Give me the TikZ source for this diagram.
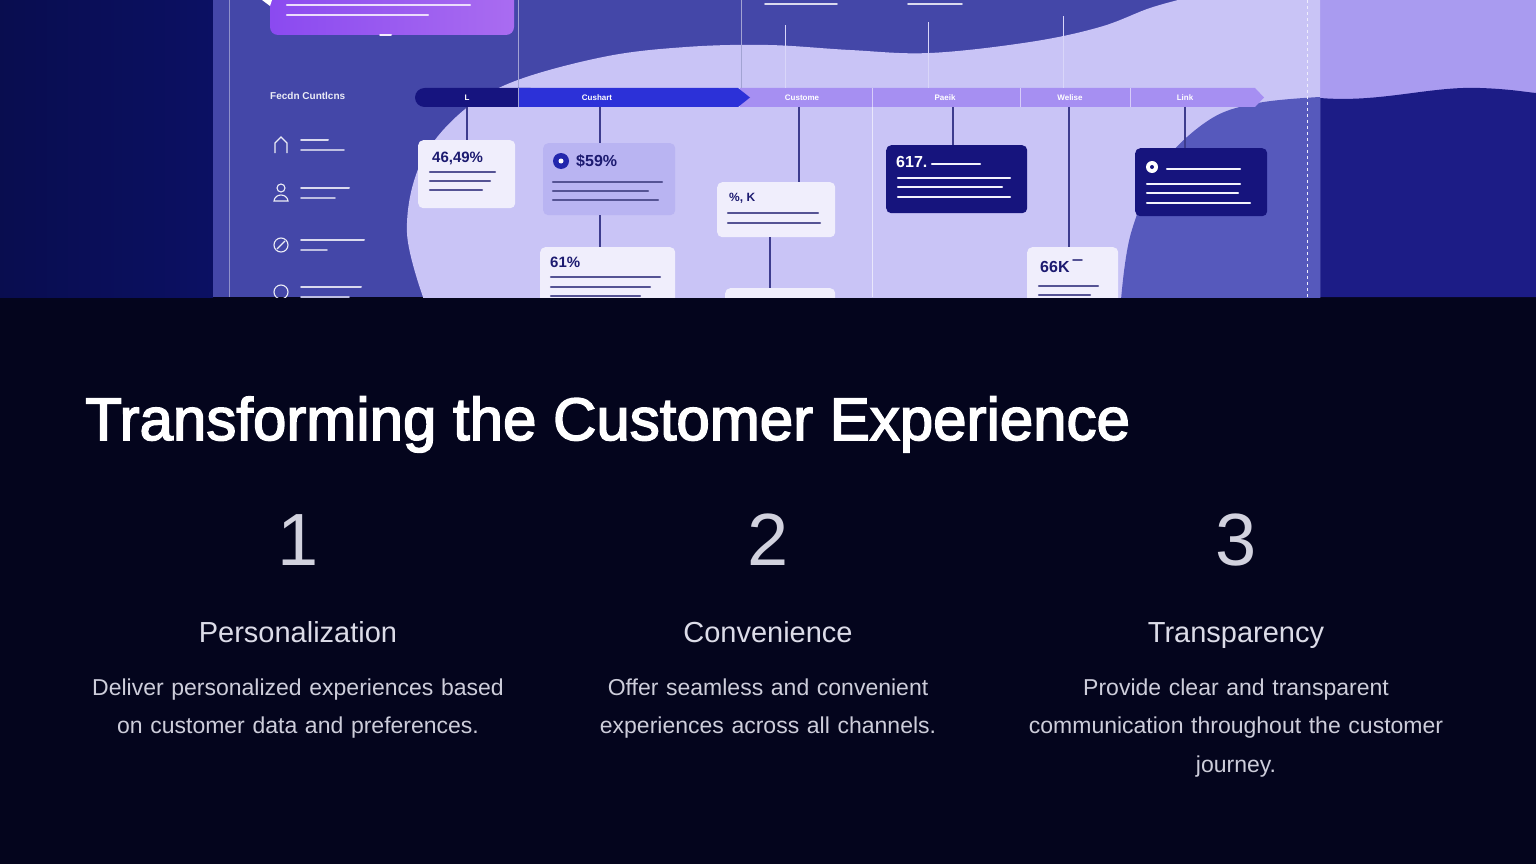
\documentclass[tikz,border=0pt]{standalone}
\usepackage{fontspec}
\setmainfont{Liberation Sans}
\newfontfamily\titlefont[FakeBold=2.6]{Liberation Sans}
\usetikzlibrary{positioning}
\definecolor{pagebg}{HTML}{04051D}
\definecolor{leftnavy}{HTML}{0B1063}
\definecolor{panelblue}{HTML}{4447A8}
\definecolor{lavender}{HTML}{C9C4F6}
\definecolor{outlilac}{HTML}{A99BF0}
\definecolor{outnavy}{HTML}{1C1C86}
\definecolor{blobblue}{HTML}{5659BC}
\definecolor{violetbox}{HTML}{9A52EE}
\definecolor{barnavy}{HTML}{16147F}
\definecolor{barblue}{HTML}{2C31D8}
\definecolor{barlilac}{HTML}{A68FF2}
\definecolor{cardwhite}{HTML}{F0EEFC}
\definecolor{cardlav}{HTML}{B9B4F2}
\definecolor{cardnavy}{HTML}{16147D}
\definecolor{inkblue}{HTML}{1C1A70}
\definecolor{linkline}{HTML}{3D3C8E}
\definecolor{numgrey}{HTML}{D2D2DE}
\definecolor{headgrey}{HTML}{DCDCE8}
\definecolor{bodygrey}{HTML}{CDCDDA}
\tikzset{
  card/.style={fill=cardwhite, rounded corners=5pt, anchor=north west, inner sep=0pt},
  navycard/.style={card, fill=cardnavy},
  conn/.style={draw=linkline, line width=1.2pt},
  guide/.style={draw=lavender!70!white, line width=0.9pt},
  inkbar/.style={draw=inkblue!75, line width=2.4pt, line cap=round},
  whitebar/.style={draw=white!85!cardlav, line width=2.2pt, line cap=round},
  stagelabel/.style={text=white, font=\bfseries\fontsize{8}{8}\selectfont, inner sep=0pt},
  bignum/.style={text=inkblue, font=\bfseries\fontsize{15}{15}\selectfont, anchor=west, inner sep=0pt},
  icon/.style={draw=white!90!panelblue, line width=1.1pt},
  colnum/.style={text=numgrey, font=\fontsize{74}{74}\selectfont, anchor=base},
  colhead/.style={text=headgrey, font=\fontsize{29}{29}\selectfont, anchor=base},
  colbody/.style={text=bodygrey, font=\fontsize{23}{38.5}\selectfont, anchor=base, align=center, text width=520pt}
}
\begin{document}
\begin{tikzpicture}[x=1pt, y=-1pt]
  \useasboundingbox (0,0) rectangle (1536,864);
  % dark lower half
  \fill[pagebg] (0,0) rectangle (1536,864);
  % picture strip
  \begin{scope}
    \clip (0,0) rectangle (1536,297);
    \shade[left color=leftnavy!80!black, right color=leftnavy] (0,0) rectangle (213,297);
    \fill[outlilac] (1320,0) rectangle (1536,297);
    \fill[outnavy] (1320,98) .. controls (1380,103) and (1430,86) .. (1480,88)
      .. controls (1510,89) and (1525,92) .. (1536,93) -- (1536,297) -- (1320,297) -- cycle;
    \fill[panelblue] (213,0) rectangle (1320,297);
    \fill[lavender] plot[smooth, tension=0.6] coordinates {(424,300) (407,233) (419,167) (456,117)
      (510,83) (603,57) (686,47) (768,45) (850,50) (930,53) (1030,42) (1100,27) (1150,8) (1190,-3)}
      -- (1320,-3) -- (1320,300) -- cycle;
    \fill[blobblue] plot[smooth, tension=0.6] coordinates {(1121,300) (1131,233) (1160,167)
      (1209,120) (1258,103) (1320,97)} -- (1320,300) -- cycle;
    % panel rules
    \draw[line width=0.9pt, draw=panelblue!60!white] (229,0) -- (229,297);
    \draw[line width=0.9pt, draw=panelblue!50!white] (518,0) -- (518,88);
    \draw[line width=0.9pt, draw=panelblue!50!white] (741,0) -- (741,88);
    \draw[line width=0.8pt, draw=white!70!lavender, dashed] (1307,0) -- (1307,297);
    \draw[line width=0.8pt, draw=white!60!lavender] (872,107) -- (872,297);
    % top callout
    \shade[left color=violetbox!90!blue, right color=violetbox!85!white, rounded corners=8pt]
      (270,-10) rectangle (514,35);
    \fill[white] (262,0) -- (272,0) -- (270,6) -- cycle;
    \draw[white!90!violetbox, line width=2pt, line cap=round] (380,35) -- (391,35);
    \draw[white!80!violetbox, line width=2.2pt, line cap=round] (287,5) -- (470,5);
    \draw[white!80!violetbox, line width=2.2pt, line cap=round] (287,15) -- (428,15);
    \draw[white!80!panelblue, line width=1.8pt, line cap=round] (765,4) -- (837,4);
    \draw[white!80!panelblue, line width=1.8pt, line cap=round] (908,4) -- (962,4);
    % left list
    \node[text=white!90!panelblue, font=\bfseries\fontsize{10}{10}\selectfont, anchor=west,
      inner sep=0pt] (features) at (270,96) {Fecdn Cuntlcns};
    \draw[icon] (275,153) -- (275,143) -- (281,137) -- (287,143) -- (287,153);
    \draw[icon] (281,188) circle (4);
    \draw[icon] (274,201) .. controls (275,193) and (287,193) .. (288,201) -- cycle;
    \draw[icon] (281,245) circle (7);
    \draw[icon] (277,249) -- (285,241);
    \draw[icon] (281,292) circle (7);
    \foreach \yy/\wa/\wb in {140/27/43, 188/48/34, 240/63/26, 287/60/48} {
      \draw[white!80!panelblue, line width=2pt, line cap=round] (301,\yy) -- (301+\wa,\yy);
      \draw[white!65!panelblue, line width=1.8pt, line cap=round] (301,\yy+10) -- (301+\wb,\yy+10);
    }
    % stage bar
    \fill[barlilac] (740,88) -- (1255,88) -- (1264,97.5) -- (1255,107) -- (740,107) -- cycle;
    \foreach \xx in {872,1020,1130}
      \draw[white!55!barlilac, line width=1pt] (\xx,88) -- (\xx,107);
    \fill[barnavy, rounded corners=9.5pt] (415,88) rectangle (540,107);
    \fill[barblue] (518,88) -- (738,88) -- (750,97.5) -- (738,107) -- (518,107) -- cycle;
    \draw[line width=0.8pt, draw=panelblue!50!white] (518,88) -- (518,107);
    \node[stagelabel] (stage1) at (467,97.5) {L};
    \node[stagelabel] (stage2) at (597,97.5) {Cushart};
    \node[stagelabel] (stage3) at (802,97.5) {Custome};
    \node[stagelabel] (stage4) at (945,97.5) {Paeik};
    \node[stagelabel] (stage5) at (1070,97.5) {Welise};
    \node[stagelabel] (stage6) at (1185,97.5) {Link};
    % cards
    \node[card, minimum width=97pt, minimum height=68pt] (boxA) at (418,140) {};
    \node[card, fill=cardlav, minimum width=132pt, minimum height=72pt] (boxB) at (543,143) {};
    \node[card, minimum width=118pt, minimum height=55pt] (boxC) at (717,182) {};
    \node[card, minimum width=135pt, minimum height=60pt] (boxD) at (540,247) {};
    \node[card, minimum width=110pt, minimum height=20pt] (boxH) at (725,288) {};
    \node[navycard, minimum width=141pt, minimum height=68pt] (boxE) at (886,145) {};
    \node[navycard, minimum width=132pt, minimum height=68pt] (boxF) at (1135,148) {};
    \node[card, minimum width=91pt, minimum height=60pt] (boxG) at (1027,247) {};
    % connectors
    \coordinate (t1) at (467,107);
    \coordinate (t2) at (600,107);
    \coordinate (t3) at (799,107);
    \coordinate (t4) at (953,107);
    \coordinate (t5) at (1069,107);
    \coordinate (t6) at (1185,107);
    \draw[conn] (t1) -- (t1 |- boxA.north);
    \draw[conn] (t2) -- (t2 |- boxB.north);
    \draw[conn] (t2 |- boxB.south) -- (t2 |- boxD.north);
    \draw[conn] (t3) -- (t3 |- boxC.north);
    \draw[conn] (770,237) -- (770,288);
    \draw[conn] (t4) -- (t4 |- boxE.north);
    \draw[conn] (t5) -- (t5 |- boxG.north);
    \draw[conn] (t6) -- (t6 |- boxF.north);
    \coordinate (u1) at (785,88);
    \coordinate (u2) at (928,88);
    \coordinate (u3) at (1063,88);
    \draw[guide] (u1) -- ++(0,-63);
    \draw[guide] (u2) -- ++(0,-66);
    \draw[guide] (u3) -- ++(0,-72);
    % card contents
    \node[bignum] (valA) at (432,158) {46,49\%};
    \foreach \yy/\xe in {172/495, 181/490, 190/482} \draw[inkbar] (430,\yy) -- (\xe,\yy);
    \fill[barblue!80!black] (561,161) circle (8);
    \fill[white] (561,161) circle (2.5);
    \node[bignum, font=\bfseries\fontsize{16}{16}\selectfont] (valB) at (576,161) {\$59\%};
    \foreach \yy/\xe in {182/662, 191/648, 200/658} \draw[inkbar] (553,\yy) -- (\xe,\yy);
    \node[bignum, font=\bfseries\fontsize{12}{12}\selectfont] (valC) at (729,198) {\%, K};
    \foreach \yy/\xe in {213/818, 223/820} \draw[inkbar] (728,\yy) -- (\xe,\yy);
    \node[bignum] (valD) at (550,262) {61\%};
    \foreach \yy/\xe in {277/660, 287/650, 296/640} \draw[inkbar] (551,\yy) -- (\xe,\yy);
    \node[bignum, text=white, font=\bfseries\fontsize{16}{16}\selectfont] (valE) at (896,162) {617.};
    \draw[whitebar] (932,164) -- (980,164);
    \foreach \yy/\xe in {178/1010, 187/1002, 197/1010} \draw[whitebar] (898,\yy) -- (\xe,\yy);
    \fill[white] (1152,167) circle (6);
    \fill[cardnavy] (1152,167) circle (2);
    \draw[whitebar] (1167,169) -- (1240,169);
    \foreach \yy/\xe in {184/1240, 193/1238, 203/1250} \draw[whitebar] (1147,\yy) -- (\xe,\yy);
    \node[bignum, font=\bfseries\fontsize{16}{16}\selectfont] (valG) at (1040,267) {66K};
    \draw[inkbar, line width=1.6pt] (1073,260) -- (1082,260);
    \foreach \yy/\xe in {286/1098, 295/1090} \draw[inkbar] (1039,\yy) -- (\xe,\yy);
  \end{scope}
  % title and columns
  \node[anchor=base west, inner sep=0pt, text=white, font=\titlefont\fontsize{60}{60}\selectfont]
    (title) at (85,440) {Transforming the Customer Experience};
  \node[colnum] (num1) at (298,565) {1};
  \node[colnum] (num2) at (768,565) {2};
  \node[colnum] (num3) at (1236,565) {3};
  \node[colhead] (head1) at (298,642) {Personalization};
  \node[colhead] (head2) at (768,642) {Convenience};
  \node[colhead] (head3) at (1236,642) {Transparency};
  \node[colbody] (body1) at (298,695) {Deliver personalized experiences based\\on customer data and preferences.};
  \node[colbody] (body2) at (768,695) {Offer seamless and convenient\\experiences across all channels.};
  \node[colbody] (body3) at (1236,695) {Provide clear and transparent\\communication throughout the customer\\journey.};
\end{tikzpicture}
\end{document}
